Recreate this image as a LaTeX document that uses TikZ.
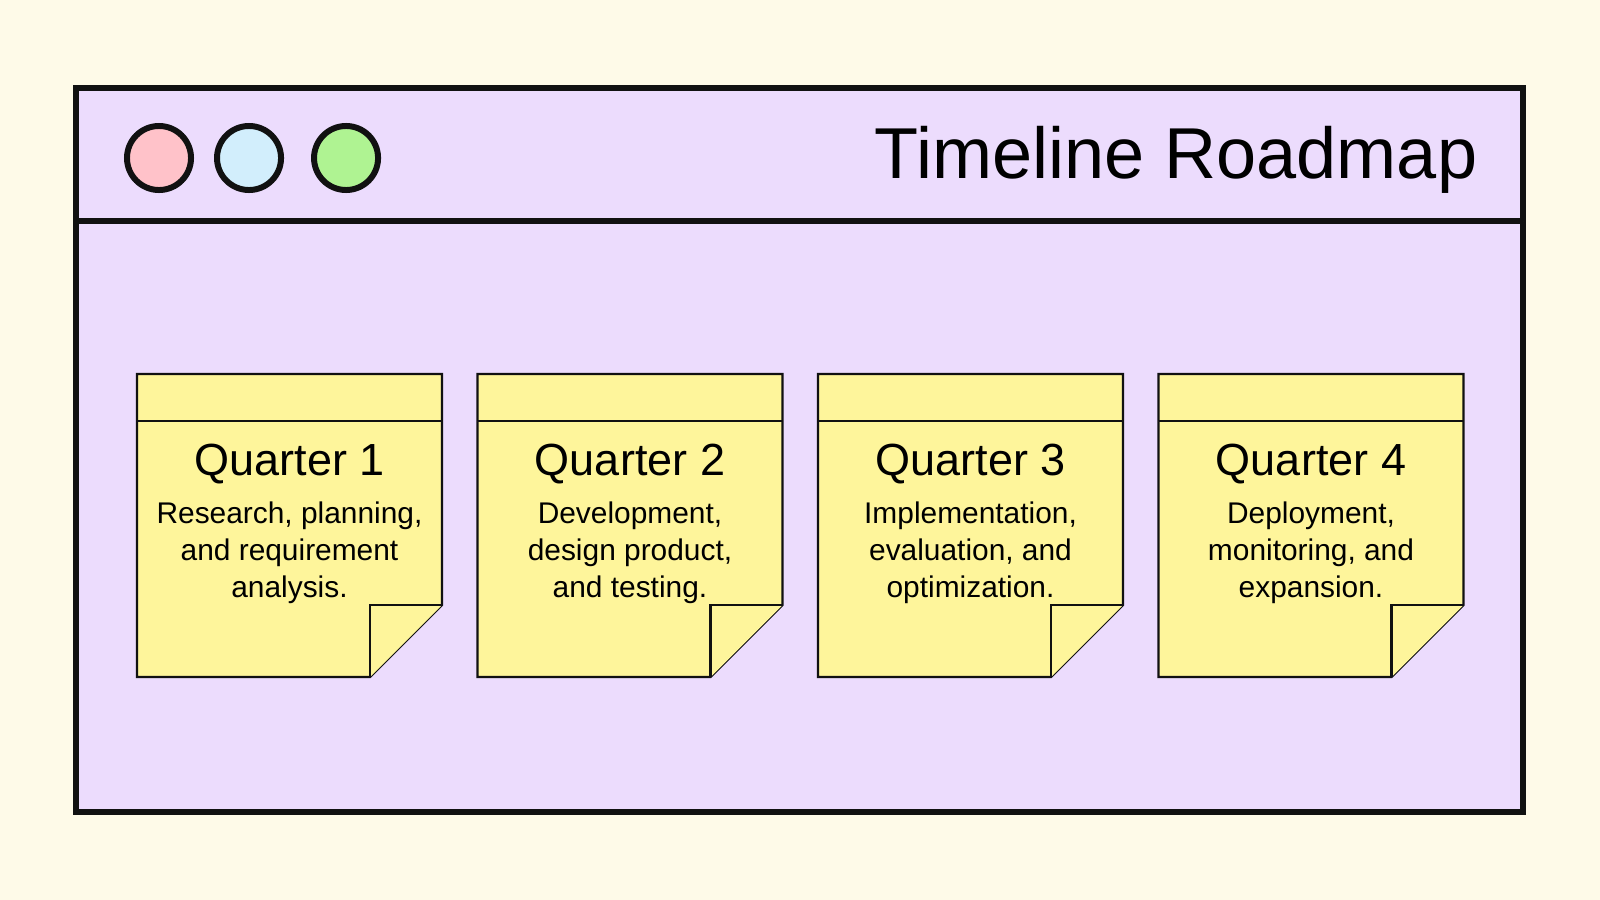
\documentclass[tikz,border=0pt]{standalone}
\usepackage{fontspec}
\setmainfont{Liberation Sans}
\usetikzlibrary{positioning}

\definecolor{paper}{HTML}{FEFAE8}
\definecolor{lilac}{HTML}{ECDCFD}
\definecolor{sticky}{HTML}{FEF59B}
\definecolor{ink}{HTML}{111111}
\definecolor{blush}{HTML}{FFC2C9}
\definecolor{sky}{HTML}{D2EEFC}
\definecolor{lime}{HTML}{AFF392}

\begin{document}
\begin{tikzpicture}[x=0.01cm,y=-0.01cm,
                    frame/.style={draw=ink,line width=1.7pt,fill=lilac},
                    light/.style={circle,draw=ink,line width=1.7pt,minimum size=0.64cm,inner sep=0pt},
                    note/.style={draw=ink,line width=0.6pt,fill=sticky},
                    quarter/.style={font=\fontsize{12.8}{15}\selectfont,inner sep=0pt,anchor=base},
                    task/.style={font=\fontsize{8.5}{10.4}\selectfont,align=center,inner sep=0pt,anchor=base}]

  \fill[paper] (0,0) rectangle (1600,900);

  % window
  \draw[frame] (76,88) rectangle (1523,812);
  \draw[frame] (76,221) -- (1523,221);

  \node[light,fill=blush] (red) at (159,158) {};
  \node[light,fill=sky,right=0.2cm of red] (blue) {};
  \node[light,fill=lime,right=0.27cm of blue] (green) {};

  \node[anchor=base east,inner sep=0pt,font=\fontsize{20.5}{24}\selectfont] (title) at (1478,178) {Timeline Roadmap};

  % sticky notes
  \foreach \i/\x/\txt in {1/137/{Research, planning,\\and requirement\\analysis.},
                          2/477.5/{Development,\\design product,\\and testing.},
                          3/818/{Implementation,\\evaluation, and\\optimization.},
                          4/1158.5/{Deployment,\\monitoring, and\\expansion.}}{
    \coordinate (n\i) at (\x,374);
    \draw[note] (n\i) -- ++(305,0) -- ++(0,231) -- ++(-72,72) -- ++(-233,0) -- cycle;
    \draw[note] ([shift={(0,47)}]n\i) -- ++(305,0);
    \draw[note] ([shift={(233,303)}]n\i) -- ++(0,-72) -- ++(72,0);
    \node[quarter] (q\i) at ([shift={(152.5,101)}]n\i) {Quarter \i};
    \node[task] (d\i) at ([shift={(152.5,223)}]n\i) {\txt};
  }
\end{tikzpicture}
\end{document}
